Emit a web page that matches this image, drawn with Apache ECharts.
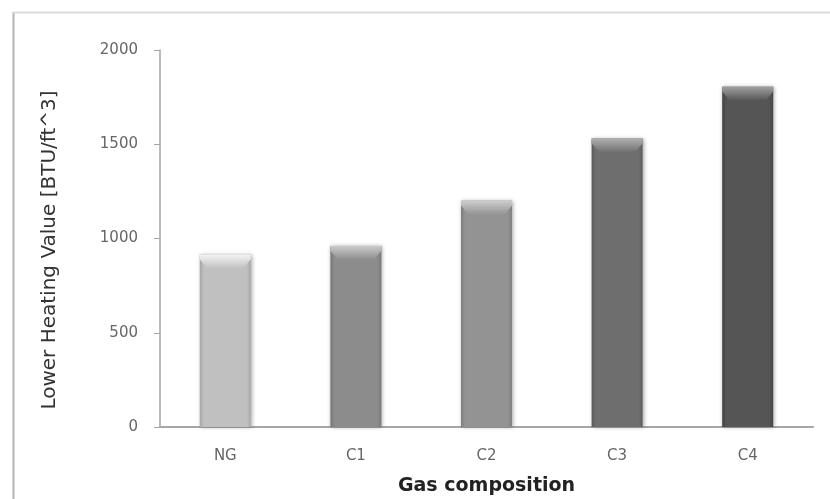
<!DOCTYPE html>
<html><head><meta charset="utf-8">
<script src="https://cdn.jsdelivr.net/npm/echarts@6/dist/echarts.min.js"></script>
<style>html,body{margin:0;padding:0;background:#fff}#c{width:830px;height:499px}</style>
</head><body><div id="c"></div>
<script>
const categories = ['NG', 'C1', 'C2', 'C3', 'C4'];
const lhvValues = [915, 960, 1200, 1530, 1805];
const yTicks = [0, 500, 1000, 1500, 2000];
const barColors = [
  ['#a9a9a9', '#c0c0c0', '#a6a6a6'],
  ['#7a7a7a', '#8c8c8c', '#777777'],
  ['#808080', '#939393', '#7d7d7d'],
  ['#5e5e5e', '#6e6e6e', '#5a5a5a'],
  ['#464646', '#555555', '#424242']
];
const capColors = ['#f4f4f4', '#cacaca', '#cdcdcd', '#b0b0b0', '#a0a0a0'];

function grad(c) {
  return new echarts.graphic.LinearGradient(0, 0, 1, 0, [
    {offset: 0, color: c[2]}, {offset: 0.08, color: c[1]},
    {offset: 0.5, color: c[1]}, {offset: 0.92, color: c[1]}, {offset: 1, color: c[0]}
  ]);
}
const barData = lhvValues.map((v, i) => ({
  value: v,
  itemStyle: {color: grad(barColors[i]), shadowColor: 'rgba(0,0,0,0.35)', shadowBlur: 4, shadowOffsetX: 1, shadowOffsetY: 0}
}));
const capData = lhvValues.map((v, i) => ({
  value: v,
  itemStyle: {color: new echarts.graphic.LinearGradient(0, 0, 0, 1, [
    {offset: 0, color: capColors[i]}, {offset: 1, color: barColors[i][1]}
  ])}
}));

const chart = echarts.init(document.getElementById('c'), null, {renderer: 'canvas'});
chart.setOption({
  animation: false,
  backgroundColor: '#fff',
  graphic: [
    {type: 'line', shape: {x1: 13.5, y1: 12, x2: 13.5, y2: 499}, style: {stroke: '#b4b4b4', lineWidth: 2}},
    {type: 'line', shape: {x1: 13, y1: 12.5, x2: 830, y2: 12.5}, style: {stroke: '#d9d9d9', lineWidth: 2}},
    {type: 'text', x: 50, y: 250, rotation: Math.PI / 2,
     style: {text: 'Lower Heating Value [BTU/ft^3]', fontFamily: 'DejaVu Sans', fontSize: 20, fill: '#333',
             align: 'center', verticalAlign: 'middle'}}
  ],
  grid: {left: 160, right: 17, top: 50, bottom: 72, containLabel: false, outerBoundsMode: 'none'},
  xAxis: {
    type: 'category', data: categories,
    name: 'Gas composition', nameLocation: 'middle', nameGap: 50,
    nameTextStyle: {fontFamily: 'DejaVu Sans', fontSize: 19, fontWeight: 'bold', color: '#222'},
    axisLine: {lineStyle: {color: '#a6a6a6', width: 2}},
    axisTick: {show: false},
    axisLabel: {fontFamily: 'DejaVu Sans', fontSize: 15, color: '#666', margin: 22}
  },
  yAxis: {
    type: 'value', min: yTicks[0], max: yTicks[yTicks.length - 1], interval: 500,
    axisLine: {show: true, lineStyle: {color: '#a6a6a6', width: 1.5}},
    axisTick: {show: true, length: 6, lineStyle: {color: '#a6a6a6'}},
    splitLine: {show: false},
    axisLabel: {fontFamily: 'DejaVu Sans', fontSize: 15, color: '#666', margin: 22, formatter: v => String(v)}
  },
  series: [
    {type: 'bar', data: barData, barWidth: 51},
    {type: 'pictorialBar', data: capData, symbol: 'path://M0,0 L10,0 L10,1 L8.5,3 L1.5,3 L0,1 Z',
     symbolSize: [51, 14], symbolPosition: 'end', symbolOffset: [0, 0], barGap: '-100%', z: 3}
  ]
});
</script></body></html>
